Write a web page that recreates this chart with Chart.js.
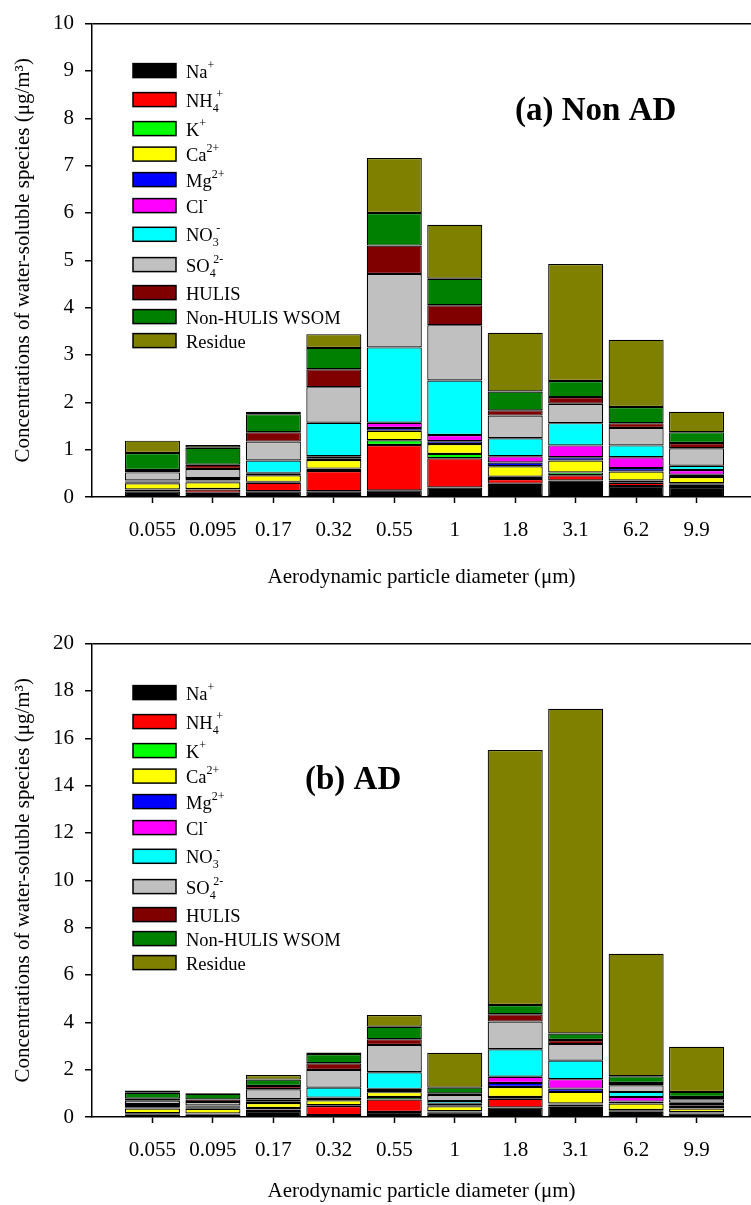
<!DOCTYPE html>
<html>
<head>
<meta charset="utf-8">
<script src="https://cdn.jsdelivr.net/npm/chart.js@4.4.0/dist/chart.umd.min.js"></script>
<style>
  html, body { margin: 0; padding: 0; background: #fff; overflow: hidden; }
  .box { position: absolute; left: 0; width: 751px; height: 590px; }
</style>
</head>
<body>
<div class="box" style="top:0"><canvas id="nonAD"></canvas></div>
<div class="box" style="top:620px"><canvas id="ad"></canvas></div>
<script>
// particle size bins (um)
const sizes = ['0.055', '0.095', '0.17', '0.32', '0.55', '1', '1.8', '3.1', '6.2', '9.9'];

// species, legend text split into base / subscript / superscript
const speciesNames = ['Na', 'NH', 'K', 'Ca', 'Mg', 'Cl', 'NO', 'SO', 'HULIS', 'Non-HULIS WSOM', 'Residue'];
const speciesSub = ['', '4', '', '', '', '', '3', '4', '', '', ''];
const speciesSup = ['+', '+', '+', '2+', '2+', '-', '-', '2-', '', '', ''];
const speciesColors = ['#000000', '#ff0000', '#00ff00', '#ffff00', '#0000ff', '#ff00ff',
                       '#00ffff', '#c0c0c0', '#800000', '#008000', '#808000'];

// ====== (a) Non AD ======
const naA      = [0.12, 0.09, 0.12, 0.12, 0.14, 0.20, 0.28, 0.35, 0.23, 0.21];
const nh4A     = [0.03, 0.07, 0.18, 0.43, 0.96, 0.62, 0.10, 0.11, 0.07, 0.05];
const kA       = [0.01, 0.01, 0.02, 0.05, 0.10, 0.09, 0.05, 0.06, 0.05, 0.03];
const caA      = [0.13, 0.14, 0.14, 0.18, 0.20, 0.21, 0.22, 0.25, 0.19, 0.13];
const mgA      = [0.02, 0.02, 0.03, 0.03, 0.06, 0.06, 0.08, 0.07, 0.07, 0.05];
const clA      = [0.02, 0.02, 0.02, 0.05, 0.11, 0.13, 0.13, 0.25, 0.23, 0.10];
const no3A     = [0.02, 0.05, 0.26, 0.71, 1.59, 1.15, 0.38, 0.47, 0.25, 0.09];
const so4A     = [0.17, 0.19, 0.40, 0.75, 1.55, 1.17, 0.48, 0.41, 0.37, 0.37];
const hulisA   = [0.05, 0.09, 0.20, 0.38, 0.60, 0.42, 0.11, 0.14, 0.10, 0.11];
const wsomA    = [0.36, 0.36, 0.38, 0.45, 0.69, 0.56, 0.40, 0.34, 0.34, 0.23];
const residueA = [0.26, 0.06, 0.05, 0.29, 1.16, 1.14, 1.24, 2.47, 1.42, 0.43];

// ====== (b) AD ======
const naB      = [0.10, 0.12, 0.25, 0.08, 0.21, 0.20, 0.40, 0.43, 0.22, 0.15];
const nh4B     = [0.03, 0.02, 0.07, 0.38, 0.53, 0.03, 0.37, 0.10, 0.06, 0.04];
const kB       = [0.03, 0.01, 0.06, 0.04, 0.11, 0.02, 0.08, 0.04, 0.02, 0.02];
const caB      = [0.20, 0.20, 0.21, 0.21, 0.20, 0.20, 0.42, 0.49, 0.27, 0.15];
const mgB      = [0.05, 0.06, 0.05, 0.05, 0.05, 0.05, 0.17, 0.14, 0.08, 0.06];
const clB      = [0.06, 0.04, 0.04, 0.06, 0.09, 0.06, 0.26, 0.40, 0.20, 0.08];
const no3B     = [0.08, 0.04, 0.07, 0.42, 0.70, 0.12, 1.16, 0.78, 0.21, 0.10];
const so4B     = [0.14, 0.14, 0.42, 0.75, 1.15, 0.25, 1.17, 0.70, 0.28, 0.15];
const hulisB   = [0.08, 0.11, 0.14, 0.28, 0.25, 0.07, 0.31, 0.17, 0.10, 0.10];
const wsomB    = [0.25, 0.24, 0.27, 0.39, 0.52, 0.24, 0.39, 0.28, 0.28, 0.21];
const residueB = [0.10, 0.03, 0.19, 0.07, 0.50, 1.47, 10.77, 13.72, 5.18, 1.91];

const serif = "'Liberation Serif', 'Times New Roman', serif";
// legend row centres, measured down from the top of the plot area
const legendRows = [47, 76, 105, 130.5, 156, 182, 210.7, 241, 269, 293, 317];

// legend drawn by hand so the ion charges can sit as sub/superscripts
const legendPlugin = {
  id: 'speciesLegend',
  afterDraw(chart, args, opts) {
    const { ctx, chartArea } = chart;
    ctx.save();
    ctx.textBaseline = 'alphabetic';
    chart.data.datasets.forEach((ds, i) => {
      const yc = chartArea.top + legendRows[i] + opts.shift;
      const x = chartArea.left + 41;
      ctx.fillStyle = ds.backgroundColor;
      ctx.fillRect(x, yc - 7, 43, 14);
      ctx.lineWidth = 1.5;
      ctx.strokeStyle = '#000';
      ctx.strokeRect(x, yc - 7, 43, 14);

      const base = yc + 7;
      let tx = x + 53;
      ctx.fillStyle = '#000';
      ctx.font = '18.5px ' + serif;
      ctx.fillText(speciesNames[i], tx, base);
      tx += ctx.measureText(speciesNames[i]).width;
      ctx.font = '12px ' + serif;
      let supX = tx;
      if (speciesSub[i]) {
        ctx.fillText(speciesSub[i], tx, base + 5);
        supX = tx + ctx.measureText(speciesSub[i]).width * 0.6;
      }
      if (speciesSup[i]) ctx.fillText(speciesSup[i], supX, base - 9);
    });
    ctx.restore();
  }
};

const panelLabel = {
  id: 'panelLabel',
  afterDraw(chart, args, opts) {
    const { ctx, chartArea } = chart;
    ctx.save();
    ctx.font = 'bold 33px ' + serif;
    ctx.fillStyle = '#000';
    ctx.textBaseline = 'alphabetic';
    ctx.fillText(opts.text, chartArea.left + opts.dx, chartArea.top + opts.dy);
    ctx.restore();
  }
};

function makeChart(id, series, yMax, yStep, label, xHeight) {
  return new Chart(document.getElementById(id), {
    type: 'bar',
    data: {
      datasets: series.map((vals, i) => ({
        label: speciesNames[i] + speciesSub[i] + speciesSup[i],
        data: vals.map((v, j) => ({ x: j, y: v })),
        backgroundColor: speciesColors[i],
        borderColor: '#000',
        borderWidth: 1.2,
        borderSkipped: false,
        barPercentage: 0.91,
        categoryPercentage: 1
      }))
    },
    options: {
      responsive: true,
      maintainAspectRatio: false,
      animation: false,
      layout: { padding: { top: 19, right: 0, bottom: 93 - xHeight, left: 0 } },
      plugins: {
        legend: { display: false },
        tooltip: { enabled: false },
        speciesLegend: { shift: label.shift },
        panelLabel: label
      },
      scales: {
        x: {
          type: 'linear',
          stacked: true,
          offset: false,
          min: -1,
          max: 9.9,
          afterBuildTicks: s => { s.ticks = sizes.map((_, j) => ({ value: j })); },
          afterFit: s => { s.height = xHeight; },
          ticks: {
            autoSkip: false,
            maxRotation: 0,
            color: '#000',
            padding: 15,
            font: { family: serif, size: 21 },
            callback: v => sizes[v] ?? ''
          },
          grid: { offset: false, drawOnChartArea: false, tickLength: 6, tickColor: '#000', tickWidth: 1.5 },
          border: { color: '#000', width: 1.5 },
          title: {
            display: true,
            text: 'Aerodynamic particle diameter (μm)',
            color: '#000',
            padding: 0,
            font: { family: serif, size: 21 }
          }
        },
        y: {
          stacked: true,
          min: 0,
          max: yMax,
          afterFit: s => { s.width = 92; },
          ticks: {
            stepSize: yStep,
            color: '#000',
            padding: 11,
            font: { family: serif, size: 21 }
          },
          grid: {
            color: c => (c.tick && c.tick.value === yMax) ? '#000' : 'rgba(0,0,0,0)',
            lineWidth: 1.5,
            tickLength: 7,
            tickColor: '#000',
            tickWidth: 1.5
          },
          border: { color: '#000', width: 1.5 },
          title: {
            display: true,
            text: 'Concentrations of water-soluble species (μg/m³)',
            color: '#000',
            padding: { top: 11 },
            font: { family: serif, size: 21 }
          }
        }
      }
    },
    plugins: [legendPlugin, panelLabel]
  });
}

makeChart('nonAD',
  [naA, nh4A, kA, caA, mgA, clA, no3A, so4A, hulisA, wsomA, residueA],
  10, 1, { text: '(a) Non AD', dx: 423, dy: 96, shift: 0 }, 93);

makeChart('ad',
  [naB, nh4B, kB, caB, mgB, clB, no3B, so4B, hulisB, wsomB, residueB],
  20, 2, { text: '(b) AD', dx: 213, dy: 145, shift: 2 }, 87);
</script>
</body>
</html>
